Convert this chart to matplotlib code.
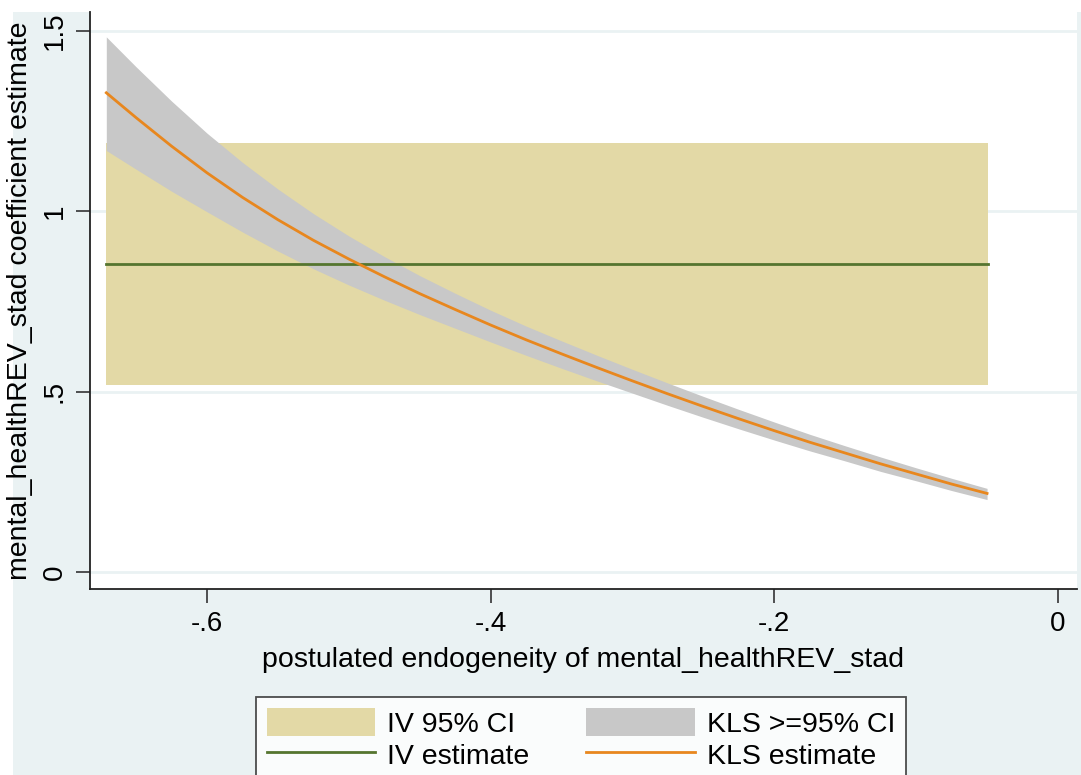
import matplotlib
matplotlib.use("Agg")
import matplotlib.pyplot as plt
from matplotlib.patches import Patch, Rectangle
from matplotlib.lines import Line2D

plt.rcParams['font.family'] = ['Liberation Sans', 'DejaVu Sans']

# --- IV estimate and its 95% CI ---
iv_x = [-0.671, -0.049]
iv_est = 0.853
iv_lo = 0.518
iv_hi = 1.189

# --- KLS estimate over postulated endogeneity, with >=95% band ---
rho = [-0.671, -0.65, -0.625, -0.6, -0.575, -0.55, -0.525, -0.5, -0.475,
       -0.45, -0.425, -0.4, -0.375, -0.35, -0.325, -0.3, -0.275, -0.25,
       -0.225, -0.2, -0.175, -0.15, -0.125, -0.1, -0.075, -0.05]
kls_est = [1.329, 1.260, 1.181, 1.107, 1.039, 0.977, 0.920, 0.868, 0.819,
           0.772, 0.728, 0.685, 0.644, 0.605, 0.567, 0.530, 0.494, 0.459,
           0.425, 0.392, 0.360, 0.330, 0.300, 0.272, 0.244, 0.218]
kls_hi = [1.484, 1.401, 1.306, 1.217, 1.136, 1.062, 0.994, 0.932, 0.875,
          0.822, 0.773, 0.726, 0.682, 0.641, 0.601, 0.562, 0.524, 0.487,
          0.451, 0.416, 0.382, 0.350, 0.319, 0.289, 0.260, 0.232]
kls_lo = [1.169, 1.117, 1.056, 0.999, 0.943, 0.890, 0.841, 0.796, 0.754,
          0.714, 0.676, 0.638, 0.601, 0.565, 0.530, 0.496, 0.462, 0.429,
          0.397, 0.366, 0.336, 0.308, 0.279, 0.253, 0.226, 0.201]

xticks = [-0.6, -0.4, -0.2, 0]
xticklabels = ["-.6", "-.4", "-.2", "0"]
yticks = [0, 0.5, 1, 1.5]
yticklabels = ["0", ".5", "1", "1.5"]

bg = "#EAF2F3"
tan = "#E3D9A6"
grey = "#C8C8C8"
green = "#55752F"
orange = "#E8871E"

W, H = 1081, 775
fig = plt.figure(figsize=(W / 100, H / 100), dpi=100, facecolor="white")
# outer graph region
fig.patches.append(Rectangle((13 / W, 0), 1 - 13 / W, 1 - 12 / H,
                             transform=fig.transFigure, facecolor=bg,
                             edgecolor="none", zorder=-10))

ax = fig.add_axes([90 / W, 1 - 589 / H, 987 / W, 577 / H])
ax.set_facecolor("white")

ax.fill_between(iv_x, iv_lo, iv_hi, color=tan, linewidth=0, zorder=1)
ax.fill_between(rho, kls_lo, kls_hi, color=grey, linewidth=0, zorder=2)
ax.plot(iv_x, [iv_est, iv_est], color=green, lw=2, zorder=3)
ax.plot(rho, kls_est, color=orange, lw=2, zorder=4)

ax.set_xlim(-0.6825, 0.0134)
ax.set_ylim(-0.047, 1.553)
for y in yticks:
    ax.axhline(y, color=bg, lw=2, zorder=0)

ax.set_xticks(xticks)
ax.set_xticklabels(xticklabels)
ax.set_yticks(yticks)
ax.set_yticklabels(yticklabels, rotation=90, va="center")
ax.tick_params(axis="both", direction="out", length=10, width=1.2,
               color="#333333", labelsize=20, pad=6)
for s in ["top", "right"]:
    ax.spines[s].set_visible(False)
for s in ["left", "bottom"]:
    ax.spines[s].set_color("#222222")
    ax.spines[s].set_linewidth(1.3)

ax.set_xlabel("postulated endogeneity of mental_healthREV_stad",
              fontsize=20.5, labelpad=7)
ax.set_ylabel("mental_healthREV_stad coefficient estimate",
              fontsize=20.5, labelpad=6)

handles = [Patch(facecolor=tan, edgecolor="none"),
           Line2D([], [], color=green, lw=2),
           Patch(facecolor=grey, edgecolor="none"),
           Line2D([], [], color=orange, lw=2)]
labels = ["IV 95% CI", "IV estimate", "KLS >=95% CI", "KLS estimate"]
leg = fig.legend(handles, labels, ncol=2, loc="upper center",
                 bbox_to_anchor=(581 / W, 1 - 697 / H), fontsize=20.5,
                 frameon=True, fancybox=False, edgecolor="#222222",
                 handlelength=3.8, handleheight=1.1, handletextpad=0.42,
                 columnspacing=2.0, labelspacing=0.1, borderpad=0.4,
                 borderaxespad=0)
leg.get_frame().set_linewidth(1.3)

fig.savefig("out.png", dpi=100, facecolor="white")
